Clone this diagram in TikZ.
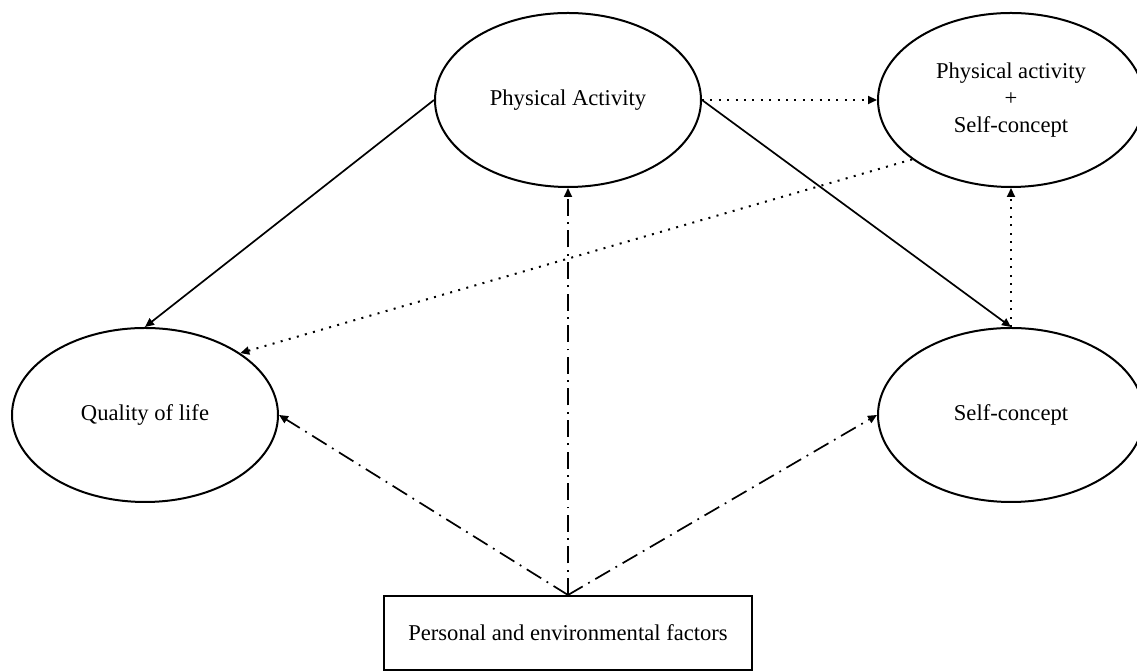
\documentclass[tikz,border=0pt]{standalone}
\usepackage{fontspec}
\setmainfont{Liberation Serif}
\usetikzlibrary{shapes.geometric}
\usetikzlibrary{arrows.meta}

\begin{document}
\begin{tikzpicture}[x=0.5pt,y=-0.5pt,
    oval/.style={draw,ellipse,line width=1pt,minimum width=133pt,minimum height=87pt,
      inner sep=0pt,align=center,font=\fontsize{11.3}{13.6}\selectfont},
    factorbox/.style={draw,rectangle,line width=1pt,minimum width=184pt,minimum height=37pt,
      inner sep=0pt,font=\fontsize{11.3}{13.6}\selectfont},
    pointer/.style={-{Triangle[length=4.5pt,width=4pt]}},
    solidarrow/.style={pointer,line width=0.85pt},
    dotarrow/.style={pointer,line width=1pt,dash pattern=on 1pt off 3.2pt},
    dasharrow/.style={pointer,line width=0.85pt,dash pattern=on 8.5pt off 3.2pt on 0.9pt off 3.2pt}]
    \useasboundingbox (0,0) rectangle (1137,672);
    % the four ovals and the box
    \node[oval] (pa) at (568,100) {Physical Activity};
    \node[oval] (pasc) at (1011,100) {Physical activity\\+\\Self-concept};
    \node[oval] (qol) at (145,415) {Quality of life};
    \node[oval] (sc) at (1011,415) {Self-concept};
    \node[factorbox] (pef) at (568,633) {Personal and environmental factors};
    % solid paths
    \draw[solidarrow] (pa.west) -- (qol.north);
    \draw[solidarrow] (pa.east) -- (sc.north);
    % dotted paths
    \draw[dotarrow] (pa.east) -- (pasc.west);
    \draw[dotarrow] (sc.north) -- (pasc.south);
    \draw[dotarrow] (pasc.211) -- (qol.33);
    % dash-dot paths
    \draw[dasharrow] (pef.north) -- (qol.east);
    \draw[dasharrow] (pef.north) -- (pa.south);
    \draw[dasharrow] (pef.north) -- (sc.west);
\end{tikzpicture}
\end{document}
